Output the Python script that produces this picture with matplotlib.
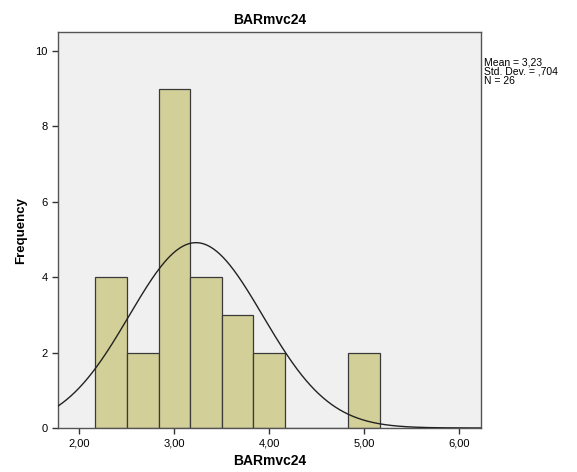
import numpy as np
import matplotlib
matplotlib.use('Agg')
import matplotlib.pyplot as plt

# Histogram bins
bin_edges = [2.168, 2.50, 2.835, 3.17, 3.50, 3.835, 4.17, 4.50, 4.835, 5.17]
counts = [4, 2, 9, 4, 3, 2, 0, 0, 2]

mean_val = 3.23
sd_val = 0.704
n_val = 26

xticks = [2, 3, 4, 5, 6]
xtick_labels = ['2,00', '3,00', '4,00', '5,00', '6,00']
yticks = [0, 2, 4, 6, 8, 10]

plt.rcParams['font.family'] = ['Liberation Sans', 'DejaVu Sans']

fig = plt.figure(figsize=(5.77, 4.72), dpi=100)
ax = fig.add_axes([0.1005, 0.0932, 0.733, 0.839])
ax.set_facecolor('#f0f0f0')

widths = np.diff(bin_edges)
ax.bar(bin_edges[:-1], counts, width=widths, align='edge',
       color='#d3cf98', edgecolor='#3a3a3a', linewidth=0.9, zorder=2)

# Normal curve from the reported mean / sd, scaled to counts
binw = np.mean(widths)
xs = np.linspace(1.775, 6.235, 400)
ys = n_val * binw * np.exp(-0.5 * ((xs - mean_val) / sd_val) ** 2) / (sd_val * np.sqrt(2 * np.pi))
ax.plot(xs, ys, color='#222222', linewidth=1.0, zorder=3)

ax.set_xlim(1.775, 6.235)
ax.set_ylim(0, 10.5)
ax.set_xticks(xticks)
ax.set_xticklabels(xtick_labels)
ax.set_yticks(yticks)
ax.tick_params(labelsize=8, length=4, width=1.0, color='#333333')
for s in ax.spines.values():
    s.set_color('#555555')
    s.set_linewidth(1.0)

ax.set_title('BARmvc24', fontsize=10, fontweight='bold', pad=6)
ax.set_xlabel('BARmvc24', fontsize=10, fontweight='bold', labelpad=4)
ax.set_ylabel('Frequency', fontsize=9.5, fontweight='bold', labelpad=6)

fig.text(0.838, 0.878,
         'Mean = 3,23\nStd. Dev. = ,704\nN = 26',
         fontsize=7.5, va='top', ha='left', linespacing=0.9)

fig.savefig('out.png', dpi=100, facecolor='white')
